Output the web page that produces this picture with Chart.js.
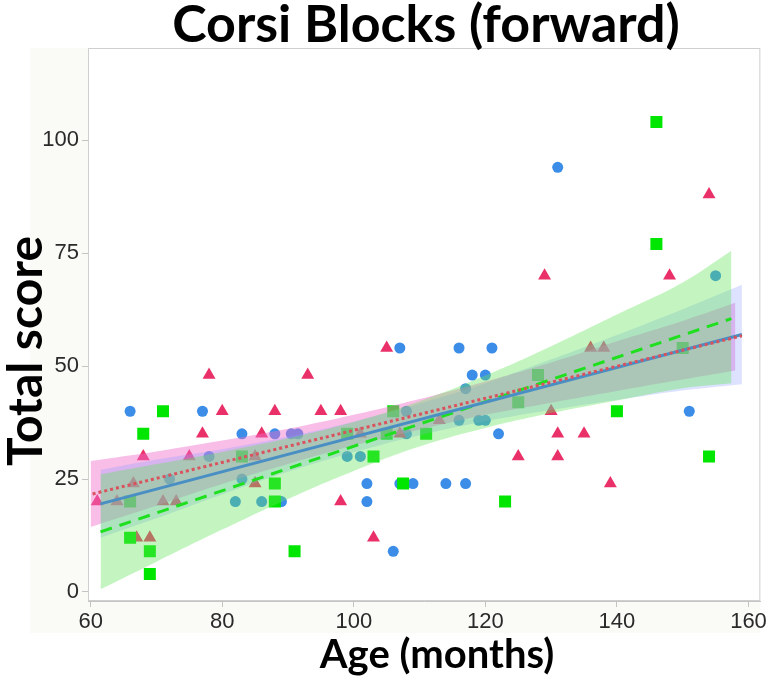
<!DOCTYPE html>
<html>
<head>
<meta charset="utf-8">
<script src="https://cdn.jsdelivr.net/npm/chart.js@4.4.1/dist/chart.umd.min.js"></script>
<style>
  html, body { margin: 0; padding: 0; background: #fff; }
  #wrap { width: 769px; height: 683px; }
</style>
</head>
<body>
<div id="wrap"><canvas id="corsiChart" width="769" height="683"></canvas></div>
<script>
// axis ticks
const xTicks = [60, 80, 100, 120, 140, 160];
const yTicks = [0, 25, 50, 75, 100];

// group 1: blue circles
const circleAge = [66, 77, 83, 78, 72, 83, 82, 86, 88, 90.5, 91.5, 108, 107, 108, 99, 101, 102, 107, 109, 89, 102, 106,
  116, 121, 118, 120, 117, 116, 119, 120, 122, 114, 117, 131, 155, 151];
const circleScore = [40, 40, 35, 30, 25, 25, 20, 20, 35, 35, 35, 40, 54, 35, 30, 30, 24, 24, 24, 20, 20, 9,
  54, 54, 48, 48, 45, 38, 38, 38, 35, 24, 24, 94, 70, 40];

// group 2: pink triangles
const triAge = [61, 64, 66.5, 71, 73, 67, 69, 68, 75, 77, 78, 80, 85, 85, 86, 88, 93, 95, 98, 98, 101, 103, 105, 107,
  113, 129, 130, 131, 135, 125, 131, 136, 138, 139, 148, 154];
const triScore = [20, 20, 24, 20, 20, 12, 12, 30, 30, 35, 48, 40, 24, 30, 35, 40, 48, 40, 40, 20, 35, 12, 54, 35,
  38, 70, 40, 35, 35, 30, 30, 54, 54, 24, 70, 88];

// group 3: green squares
const sqAge = [66, 66, 69, 69, 68, 71, 83, 88, 88, 91, 99, 103, 105, 106, 107.5, 111, 123, 125, 128, 140, 146, 146, 150, 154];
const sqScore = [20, 12, 9, 4, 35, 40, 30, 24, 20, 9, 35, 30, 35, 40, 24, 35, 20, 42, 48, 40, 104, 77, 54, 30];

// fitted lines (start / end)
const redFitX = [60.3, 159];
const redFitY = [21.7, 56.7];
const blueFitX = [61.5, 159];
const blueFitY = [19.5, 57.0];
const greenFitX = [61.5, 157.4];
const greenFitY = [13.3, 60.5];

// confidence bands
const pinkBandX = [60, 70, 80, 90, 100, 110, 120, 130, 140, 150, 158];
const pinkBandHi = [29.0, 31.1, 33.5, 36.1, 39.2, 42.7, 46.6, 50.8, 55.5, 60.0, 64.0];
const pinkBandLo = [14.4, 19.1, 23.9, 28.3, 32.4, 35.9, 39.2, 41.9, 44.5, 47.0, 49.0];

const blueBandX = [61.5, 70, 80, 90, 100, 110, 120, 130, 140, 150, 159];
const blueBandHi = [27.0, 29.3, 31.6, 34.4, 37.7, 41.7, 46.2, 51.5, 56.9, 62.6, 68.0];
const blueBandLo = [12.0, 16.3, 21.6, 26.6, 30.9, 34.7, 37.8, 40.3, 42.5, 44.6, 46.0];

const greenBandX = [61.5, 70, 80, 90, 100, 110, 120, 130, 140, 150, 157.4];
const greenBandHi = [26.0, 28.3, 31.0, 34.0, 37.6, 42.2, 47.9, 54.4, 61.4, 68.5, 75.5];
const greenBandLo = [0.6, 6.7, 13.8, 20.6, 26.8, 32.2, 36.3, 39.6, 42.4, 45.1, 46.2];

const toXY = (xs, ys) => xs.map((x, i) => ({ x: x, y: ys[i] }));

function band(xs, ys, color, order, fill) {
    return {
        type: 'line',
        data: toXY(xs, ys),
        borderWidth: 0,
        pointRadius: 0,
        tension: 0.4,
        fill: fill,
        backgroundColor: color,
        order: order
    };
}

function fitLine(xs, ys, color, dash, order) {
    return {
        type: 'line',
        data: toXY(xs, ys),
        borderColor: color,
        borderWidth: 3,
        borderDash: dash,
        pointRadius: 0,
        fill: false,
        order: order
    };
}

// frame, tinted surround and big titles
const framePlugin = {
    id: 'framePlugin',
    beforeDraw(chart) {
        const { ctx, chartArea } = chart;
        ctx.save();
        ctx.fillStyle = '#fafaf7';
        ctx.fillRect(30, chartArea.top, chartArea.right - 30, chartArea.bottom - chartArea.top + 32);
        ctx.fillStyle = '#ffffff';
        ctx.fillRect(chartArea.left, chartArea.top, chartArea.right - chartArea.left, chartArea.bottom - chartArea.top);
        ctx.restore();
    },
    afterDraw(chart) {
        const { ctx, chartArea } = chart;
        ctx.save();
        ctx.strokeStyle = '#cfcfcf';
        ctx.lineWidth = 1;
        ctx.strokeRect(chartArea.left + 0.5, chartArea.top + 0.5, chartArea.right - chartArea.left - 1, chartArea.bottom - chartArea.top - 1);

        ctx.fillStyle = '#000';
        ctx.textAlign = 'center';
        ctx.textBaseline = 'middle';
        ctx.font = 'bold 52px Lato';
        ctx.fillText('Corsi Blocks (forward)', 426, 25);
        ctx.font = 'bold 40px Lato';
        ctx.fillText('Age (months)', 437, 655);
        ctx.font = 'bold 48px Lato';
        ctx.translate(27, 351);
        ctx.rotate(-Math.PI / 2);
        ctx.fillText('Total score', 0, 0);
        ctx.restore();
    }
};

const ctx = document.getElementById('corsiChart').getContext('2d');

const corsiChart = new Chart(ctx, {
    type: 'scatter',
    data: {
        datasets: [
            band(pinkBandX, pinkBandHi, 'rgba(240, 110, 205, 0.45)', 7, '+1'),
            band(pinkBandX, pinkBandLo, 'rgba(0,0,0,0)', 7, false),
            band(blueBandX, blueBandHi, 'rgba(140, 160, 255, 0.30)', 6, '+1'),
            band(blueBandX, blueBandLo, 'rgba(0,0,0,0)', 6, false),
            band(greenBandX, greenBandHi, 'rgba(100, 230, 90, 0.38)', 5, '+1'),
            band(greenBandX, greenBandLo, 'rgba(0,0,0,0)', 5, false),
            fitLine(greenFitX, greenFitY, '#1fe01f', [12, 8], 3),
            fitLine(blueFitX, blueFitY, '#4a8fc4', [], 2),
            fitLine(redFitX, redFitY, '#d9525e', [3, 3], 1),
            {
                label: 'circles',
                data: toXY(circleAge, circleScore),
                pointStyle: 'circle',
                pointRadius: 5.5,
                backgroundColor: '#3b8de8',
                borderWidth: 0,
                order: 12
            },
            {
                label: 'triangles',
                data: toXY(triAge, triScore),
                pointStyle: 'triangle',
                pointRadius: 7.5,
                backgroundColor: '#ea3068',
                borderWidth: 0,
                order: 11
            },
            {
                label: 'squares',
                data: toXY(sqAge, sqScore),
                pointStyle: 'rect',
                pointRadius: 8.5,
                backgroundColor: '#00e600',
                borderWidth: 0,
                order: 10
            }
        ]
    },
    options: {
        responsive: false,
        animation: false,
        layout: { padding: { top: 48, right: 4, left: 0, bottom: 0 } },
        plugins: {
            legend: { display: false },
            tooltip: { enabled: false },
            title: { display: false }
        },
        scales: {
            x: {
                type: 'linear',
                min: 59.6,
                max: 161.8,
                afterBuildTicks: scale => { scale.ticks = xTicks.map(v => ({ value: v })); },
                afterFit: scale => { scale.height = 82; },
                grid: { drawOnChartArea: false, color: '#c4c4c4', tickLength: 6 },
                border: { color: '#c4c4c4' },
                ticks: {
                    color: '#2a2a2a',
                    font: { family: 'Liberation Sans', size: 22 },
                    padding: 2,
                    maxRotation: 0
                }
            },
            y: {
                type: 'linear',
                min: -2,
                max: 120.4,
                afterBuildTicks: scale => { scale.ticks = yTicks.map(v => ({ value: v })); },
                afterFit: scale => { scale.width = 88; },
                grid: { drawOnChartArea: false, color: '#c4c4c4', tickLength: 6 },
                border: { color: '#c4c4c4' },
                ticks: {
                    color: '#2a2a2a',
                    font: { family: 'Liberation Sans', size: 22 },
                    padding: 3
                }
            }
        }
    },
    plugins: [framePlugin]
});
</script>
</body>
</html>
